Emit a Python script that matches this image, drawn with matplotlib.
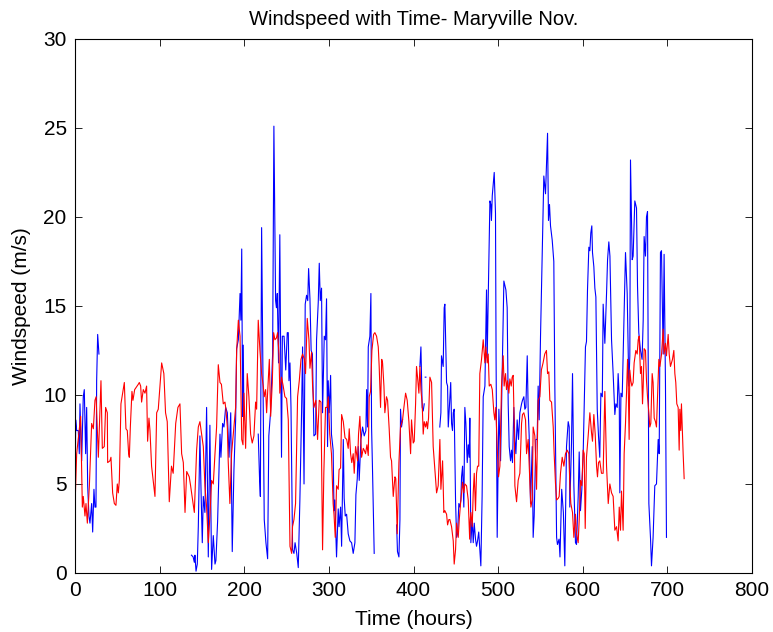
import numpy as np
import matplotlib
matplotlib.use('Agg')
from matplotlib import pyplot as plt

nan = np.nan

# site 1 (blue) - gaps where no record
blue_hours = [
    0, 0.8, 2, 3.9, 5.1, 5.9, 7.9, 9.8, 11, 12.6, 13.8, 15, 16.5, 17.7, 19.7, 20.9,
    22.4, 23.6, 24.8, 25.6, 26.8, 28.3, 29,
    137.6, 139.6, 141, 141.7, 143, 144.5, 145.7, 147.6, 148.8, 150.4, 151.6, 153.5,
    155.5, 157.5, 159.4, 161.4, 163.4, 165.4, 166.5, 168.5, 171.3, 172.4, 174.4, 176,
    178, 180, 182, 184, 185.8, 187.8, 189.8, 191, 193, 195, 196, 197, 198, 198.8,
    199.6, 200.5,
    216.5, 218, 219, 220.5, 222.4, 223.6, 225.6, 227.6, 229, 231, 233.5, 235, 237,
    238, 239, 240.5, 242, 243, 244, 245, 247, 249, 250.8, 252, 252.8, 254, 255.2,
    257.1, 258.7, 260, 262, 263.8, 265.7, 267.7, 268.9, 270.6, 272, 273.6, 275, 276,
    277.6, 279, 280.5, 282.3, 284.3, 285.4, 287.4, 288.6, 289.8, 291.3, 292.5, 294.5,
    296, 297.2, 298.4, 299.2, 300.4, 302, 303, 305, 306, 307, 309, 311, 312, 313.8,
    315, 317, 318, 319.3, 320.9, 322.8, 324.8, 326.8, 328.7, 330.7, 331.9, 333.5,
    334.6, 335.8, 337.8, 339.8, 341.7, 343.7, 344.5, 345.7, 346.5, 348.4, 349.6,
    350.4, 351.6, 353.5, 354,
    380, 381, 382.7, 383.9, 384.6, 385.8, 387, 388,
    407.5, 408.7, 410.2, 411.4, 412.6, 413,
    413.8, 414.6, 415,
    431, 432.3, 433, 434.3, 435, 436.2, 437, 439, 440.2, 441, 442.3, 443.9, 444.9,
    446, 446.9, 448, 449.6, 450.8, 452, 453.5, 454.7, 455.9, 456.7, 457.9, 459.4,
    460.6, 461.8, 463.4, 464.6, 465.7, 466.5, 467.7, 469.3, 470.5, 471.7, 473.2,
    474.4, 475.6, 477, 478.3, 479.5, 481, 482.3, 484.3, 486.2, 487, 490.2, 491.3,
    492, 493, 495.3, 496.8, 497.5, 498.8, 500.8, 502.8, 504.7, 506.7, 509.1, 510.6,
    511.8, 513, 514.6, 515.7, 516.9, 518.5, 519.7, 520.9, 522.4, 524, 525.6, 527.6,
    528.7, 530.3, 531.5, 532.7, 534.3, 535.4, 536.6, 538.2, 540.2, 541.3, 542.5,
    544.5, 546, 547.2, 548.4, 550, 551.9, 553.9, 555.9, 558.3, 559.4, 560.6, 561.8,
    563.8, 565.7, 566.9, 568, 569, 570, 571.9, 573, 575, 577, 578.7, 580.7, 582.7,
    583.9, 584.6, 586.6, 587.8, 589.4, 591.3, 592.5, 594.5, 595.7, 597.2, 598.8,
    600.4, 601.6, 603.1, 604.3, 605.5, 607.1, 608.3, 609.4, 610.6, 611.4, 613, 614.2,
    615.4, 617, 618.5, 620, 621.3, 623, 624, 626, 628, 629.2, 630.7, 632, 633.9,
    635.8, 637.8, 639, 640.6, 641.7, 643, 643.7, 645, 646.5, 648.5, 650.4, 652.4,
    654.3, 655.5, 656.3, 658.3, 659.4, 661.4, 663.4, 664.6, 666.1, 668.1, 670, 671.3,
    672.4, 674, 675.2, 676.4, 678, 680, 681.1, 683, 685, 687, 689, 690.2, 691.7,
    692.9, 694.9, 696, 697.6, 698.8,
]
blue_speed = [
    3.0, 8.6, 8.0, 8.0, 6.7, 9.5, 6.3, 9.9, 10.3, 6.7, 9.3, 4.9, 3.2, 2.8, 3.9, 2.3,
    4.7, 3.7, 3.7, 10.8, 13.4, 12.3, nan,
    1.0, 0.9, 0.6, 1.0, 0.1, 0.5, 2.6, 7.7, 4.9, 1.7, 4.3, 3.4,
    9.3, 0.9, 8.3, 0.2, 2.1, 0.5, 0.7, 2.9, 7.8, 6.5, 8.4, 8.2,
    9.3, 9.0, 6.5, 9.0, 1.2, 5.8, 8.6, 12.6, 13.1, 15.7, 14.2, 18.2, 8.8, 12.8,
    8.6, nan,
    7.8, 5.4, 4.3, 19.4, 9.2, 3.0, 1.7, 0.8, 7.7, 9.0, 12.3, 25.1, 15.3,
    14.9, 15.7, 11.8, 19.0, 12.3, 6.5, 13.3, 13.3, 11.4, 13.5, 13.5, 10.8, 11.8, 9.3,
    1.3, 1.1, 1.7, 1.1, 0.3, 4.1, 9.0, 12.7, 5.0, 15.1, 15.6, 15.3, 17.1,
    15.4, 12.5, 12.3, 7.7, 7.8, 13.1, 15.2, 17.4, 15.3, 16.0, 9.0, 13.3,
    13.1, 15.4, 7.1, 10.8, 9.0, 11.1, 7.8, 6.9, 3.5, 4.1, 0.9, 3.6, 2.6, 3.7,
    1.5, 7.5, 4.2, 3.2, 3.3, 2.2, 1.8, 1.7, 1.1, 1.7, 4.4, 5.3,
    7.1, 5.2, 7.5, 8.2, 7.7, 8.0, 10.3, 8.2, 12.7, 13.3, 15.7,
    8.2, 5.6, 1.1, nan,
    2.7, 1.2, 0.9, 3.0, 9.2, 8.2, 8.6, nan,
    11.6, 12.7, 9.3, 9.1, 9.5, nan,
    11.0, 11.0, nan,
    8.2, 9.0, 12.2, 11.8, 11.6, 14.9, 15.1, 10.7, 10.5, 8.2, 9.3, 10.7, 8.4,
    8.0, 9.0, 9.2, 4.1, 2.0, 2.2, 3.9, 3.7, 4.1, 5.4, 6.0, 3.7,
    9.3, 8.4, 6.2, 7.2, 6.5, 8.7, 1.7, 3.0, 1.7, 2.8, 1.9,
    1.5, 1.8, 2.3, 1.3, 0.4, 4.3, 9.9, 10.5, 15.9, 12.1, 20.9, 20.7,
    19.8, 21.2, 22.5, 20.2, 12.0, 2.0, 9.2, 6.3, 11.2, 16.4, 15.9, 14.9,
    9.5, 7.1, 6.3, 6.9, 6.2, 9.3, 7.5, 6.7, 8.6, 7.5, 9.0, 9.5,
    9.7, 9.9, 9.2, 9.3, 12.2, 9.2, 7.7, 3.9, 7.1, 2.0, 3.2,
    7.5, 7.5, 10.5, 8.6, 13.3, 17.6, 22.3, 21.3, 24.7, 19.8, 20.7, 19.5,
    18.7, 17.5, 10.5, 5.8, 2.0, 1.6, 1.9, 0.9, 4.7, 3.4, 0.4, 7.1, 8.5,
    8.2, 3.7, 7.3, 11.2, 4.9, 1.7, 1.6, 4.3, 6.8, 3.5, 4.7,
    6.7, 9.3, 12.7, 13.0, 15.9, 18.3, 18.1, 19.1, 19.5, 18.0, 17.2, 16.0,
    15.5, 9.2, 7.7, 6.5, 10.1, 9.9, 15.1, 12.9, 15.7, 17.6, 18.6, 17.8, 13.1,
    11.2, 8.9, 9.5, 9.3, 11.2, 9.9, 4.5, 10.1, 9.9, 14.0, 18.0, 15.7,
    10.5, 12.2, 23.2, 17.6, 17.8, 20.9, 20.5, 16.1, 13.5, 12.5, 12.0, 14.2,
    18.9, 17.8, 20.0, 20.3, 3.9, 1.9, 0.4, 2.0, 4.9, 5.0, 7.5, 6.7, 18.0,
    18.1, 12.3, 17.9, 10.7, 2.0,
]

# site 2 (red)
red_hours = [
    0, 2, 6.7, 8.7, 9.8, 11.8, 13, 14.6, 17, 19.7, 21.7, 23.6, 25, 27.6, 30.7, 32.3,
    34.6, 36.2, 38.2, 38.6, 41.3, 42.5, 44.5, 46.5, 48.4, 50, 51.2, 52.4, 54.3, 56.3,
    58.3, 60.2, 61.8, 63.4, 64.2, 65.4, 67.3, 68.5, 70.5, 74.8, 76, 77.6, 78.7, 80.7,
    82.7, 84.6, 85.8, 87.4, 88.6, 90.5, 94.5, 96.5, 98.4, 102.4, 105, 107, 109, 111.4,
    114, 116, 119, 121.6, 124, 126, 128, 130, 132, 135, 136.6, 138.6, 141, 143.7,
    145.7, 147.6, 149.6, 151.6, 153.5, 155.5, 157.5, 159.4, 161.4, 163.4, 165.4,
    167.3, 169.3, 171.3, 173, 175.2, 177.2, 178.3, 180, 181, 183, 185, 187.8, 189.8,
    191, 193, 195, 197, 198.5, 199.6, 201.6, 203.5, 205.5, 207.5, 209.4, 211.4,
    213.4, 214.6, 216.5, 218.5, 220.5, 222.4, 223.6, 225.2, 226.4, 227.6, 229.6,
    231.2, 233.1, 234.7, 236.2, 238, 239.4, 241, 242, 244, 246, 248, 250, 252, 254,
    256, 257, 258.7, 260.6, 263, 265, 267, 268.9, 271, 272.4, 274.4, 276.4, 277.6,
    279.5, 280.7, 282.3, 284.6, 286.6, 288.6, 290.6, 292.5, 294, 296, 298, 299.2,
    301, 303, 305, 306, 307.5, 309, 311, 312, 313.8, 315, 317, 319, 321, 322.8, 324,
    325.6, 327, 328.7, 329.9, 331.5, 332.7, 333.9, 335, 336.6, 338.6, 340.6, 341.7,
    343.3, 344.9, 346.5, 347.6, 349.2, 350.8, 352.8, 354.3, 356.3, 358.3, 359.4, 361,
    362.4, 363.4, 365, 366.1, 368, 369.3, 371.2, 372.8, 374, 376, 378, 379, 380.7,
    382.7, 384.6, 387, 388.6, 390.6, 392.5, 394.5, 396.5, 397.6, 399.6, 400.8, 402.4,
    403.5, 404.7, 406.3, 407.5, 408.7, 410.2, 411.4, 412.6, 414.2, 415.4, 416.5,
    417.7, 419.3, 421.3, 423.2, 425.2, 427.2, 429.1, 431.1, 432.3, 434.3, 435.8, 437,
    439, 440.2, 441.7, 442.9, 444.9, 446.9, 448, 449.6, 450.8, 452.8, 454, 455.5,
    456.7, 457.9, 459.4, 460.6, 462.6, 464.6, 466.3, 467, 467.7, 469.3, 470.5, 471.7,
    473.2, 474.4, 475.6, 477, 478.3, 480.3, 482.3, 484.3, 485.4, 487, 488.2, 489.4,
    491.3, 493, 494.9, 496, 497.2, 498.8, 500.4, 502, 503.9, 505.9, 507, 508.7, 509.8,
    511, 512.6, 513.8, 515.4, 516.5, 517.7, 518.9, 519.7, 521.7, 523.6, 525.6, 527.6,
    528.7, 530.3, 532.3, 533.5, 535.4, 537.4, 538.6, 540.2, 541.3, 543.3, 545.3,
    547.2, 549.2, 551, 553, 555, 557, 558.3, 559.8, 561, 563, 565, 566.1, 567.7, 569,
    571, 572, 573.6, 575.6, 577.6, 579.5, 581.5, 583.5, 584.6, 585.8, 587.8, 589.4,
    591.3, 592.5, 594.5, 595.7, 597.2, 598.8, 600.4, 601.6, 602.8, 604.3, 606.3,
    608.3, 610.2, 611.4, 613, 614.6, 616.2, 617.3, 618.5, 620, 622, 624, 626, 628,
    630, 631.9, 633.9, 635.8, 637.8, 639.8, 641.7, 643, 644.5, 645.7, 647.6, 648.8,
    650.4, 651.6, 652.8, 653.5, 654.7, 655.5, 656.7, 657.9, 659.4, 660.6, 662.6,
    664.2, 665.4, 666.5, 668.1, 669.3, 670.5, 671.3, 672.4, 674, 675.2, 676.4, 678,
    679.1, 680.3, 681.9, 683, 684.3, 685.8, 687, 688.2, 689.8, 691, 693, 694.9, 696,
    697.6, 698.8, 700.8, 702, 703.5, 704.7, 705.9, 707.5, 708.7, 709.8, 711, 712.6,
    713.8, 714.6, 715.7, 716.5, 717.7, 718.5, 719.7,
]
red_speed = [
    3.7, 6.7, 8.8, 3.7, 4.3, 3.2, 3.9, 2.8, 4.9, 8.4, 8.1, 9.7, 9.9, 6.5, 10.8, 7.0,
    7.1, 9.3, 9.0, 6.2, 6.3, 6.5, 4.5, 3.9, 3.8, 5.0, 4.5, 5.2, 9.5, 10.1,
    10.7, 8.1, 8.0, 6.7, 6.5, 8.2, 10.2, 9.7, 10.3, 10.6, 10.7, 10.5, 9.6, 10.3,
    10.1, 10.5, 7.4, 8.7, 8.0, 6.0, 4.3, 9.0, 9.2, 11.8, 11.2, 9.0, 8.5, 4.0,
    6.0, 5.6, 8.4, 9.3, 9.5, 6.7, 6.2, 3.4, 5.7, 5.4, 4.9, 4.2, 3.4, 6.9,
    8.2, 8.5, 7.8, 7.1, 4.9, 3.7, 1.7, 3.2, 5.2, 5.0, 6.7,
    8.2, 11.7, 10.7, 10.6, 9.5, 9.6, 9.2, 8.2, 6.3, 3.9, 6.7, 8.2, 9.3,
    12.5, 14.2, 13.3, 7.5, 7.2, 10.1, 7.0, 11.2, 9.9, 7.8, 7.3, 7.7,
    9.6, 9.2, 14.2, 12.5, 11.2, 10.5, 9.9, 10.3, 9.0, 10.1, 12.0,
    8.8, 10.7, 13.5, 13.1, 13.2, 13.5, 12.3, 10.1, 11.0, 10.5, 9.9, 9.8, 8.6, 1.5,
    1.1, 2.6, 3.0, 3.9, 9.9, 10.8, 12.0, 12.3, 12.0, 11.2, 14.3, 13.1, 11.5,
    12.4, 10.5, 9.3, 9.7, 7.5, 9.7, 9.6, 1.3, 5.6, 9.3, 9.3, 9.9,
    7.8, 6.7, 3.9, 3.3, 2.0, 4.9, 4.7, 5.8, 5.9, 8.9, 8.5, 7.6, 7.5, 7.0, 8.1,
    6.7, 6.2, 6.7, 5.6, 7.1, 6.7, 6.3, 7.8, 8.8, 6.5, 7.0, 6.9,
    6.7, 7.2, 6.6, 9.9, 10.2, 12.5, 13.4, 13.5, 13.3, 12.7, 11.6, 9.3,
    12.0, 11.8, 10.5, 9.0, 9.9, 9.7, 8.1, 6.5, 6.3, 4.3, 5.4, 5.3, 2.2,
    6.2, 8.2, 8.6, 9.3, 10.1, 9.7, 8.5, 6.7, 8.6, 7.3, 7.4, 9.5,
    11.6, 11.0, 10.1, 11.6, 10.3, 9.5, 7.8, 8.5, 8.2, 8.5, 8.1,
    8.7, 11.0, 10.7, 7.1, 5.8, 4.5, 4.9, 7.5, 4.7, 6.3, 3.4, 3.5,
    3.3, 2.7, 3.0, 3.0, 2.6, 1.8, 0.5, 1.3, 2.8, 2.0, 3.0, 3.9,
    4.5, 5.1, 4.5, 5.0, 4.9, 4.1, 1.9, 3.0, 3.4, 2.6, 4.5, 5.6,
    3.5, 5.6, 6.0, 6.0, 11.2, 12.0, 13.1, 11.8, 12.7, 11.8, 12.3, 10.5,
    10.6, 10.3, 9.0, 8.6, 9.3, 7.1, 5.4, 6.0, 10.5, 12.2, 10.5, 11.2, 10.3,
    10.8, 10.1, 10.9, 10.5, 11.0, 11.1, 8.4, 4.9, 4.0, 5.2, 5.6, 8.4,
    8.9, 9.0, 8.6, 6.7, 7.5, 5.2, 3.7, 4.1, 8.2, 7.7, 4.7,
    9.7, 9.9, 11.4, 11.8, 12.3, 12.5, 11.2, 11.3, 9.7, 9.6, 8.2, 6.7, 5.0, 4.1,
    4.2, 4.3, 5.6, 6.5, 6.0, 6.7, 6.9, 6.7, 5.0, 3.9, 3.4, 2.0,
    3.3, 2.2, 1.7, 3.0, 5.2, 4.9, 6.9, 6.7, 2.5, 6.5, 7.7,
    9.0, 7.9, 7.4, 8.9, 7.8, 6.0, 5.4, 6.2, 6.3, 5.6, 5.6, 10.2, 6.0,
    3.9, 5.0, 4.5, 4.3, 2.4, 2.6, 1.8, 3.7, 2.4, 4.6, 2.4, 6.7,
    8.4, 10.1, 12.0, 10.9, 7.5, 11.4, 10.8, 10.5, 10.7, 11.8, 12.5,
    12.3, 13.1, 13.3, 11.2, 11.6, 9.5, 10.5, 12.6, 12.5, 10.8, 9.9, 9.0,
    8.2, 8.4, 11.2, 10.7, 8.7, 8.5, 8.2, 9.9, 12.0, 11.6, 12.3, 13.7, 12.3,
    12.9, 12.2, 13.4, 12.3, 11.6, 11.8, 12.0, 12.5, 11.2, 10.7, 9.5, 9.3,
    6.9, 9.2, 8.0, 9.5, 7.8, 6.7, 5.3,
]

plt.rcParams['font.family'] = ['Liberation Sans', 'DejaVu Sans']

fig = plt.figure(figsize=(7.73, 6.32), dpi=100)
ax = fig.add_axes([0.097, 0.0934, 0.876, 0.845])
ax.plot(blue_hours, blue_speed, color='b', lw=0.8)
ax.plot(red_hours, red_speed, color='r', lw=0.8)

ax.set_xlim(0, 800)
ax.set_ylim(0, 30)
ax.set_xticks(range(0, 801, 100))
ax.set_yticks(range(0, 31, 5))
ax.tick_params(direction='in', top=True, right=True, length=5, width=0.6,
               labelsize=15, pad=6)
for s in ax.spines.values():
    s.set_linewidth(0.8)

ax.set_title('Windspeed with Time- Maryville Nov.', fontsize=14.5, pad=10)
ax.set_xlabel('Time (hours)', fontsize=15, labelpad=7)
ax.set_ylabel('Windspeed (m/s)', fontsize=15, labelpad=9)

fig.savefig('out.png', dpi=100)
